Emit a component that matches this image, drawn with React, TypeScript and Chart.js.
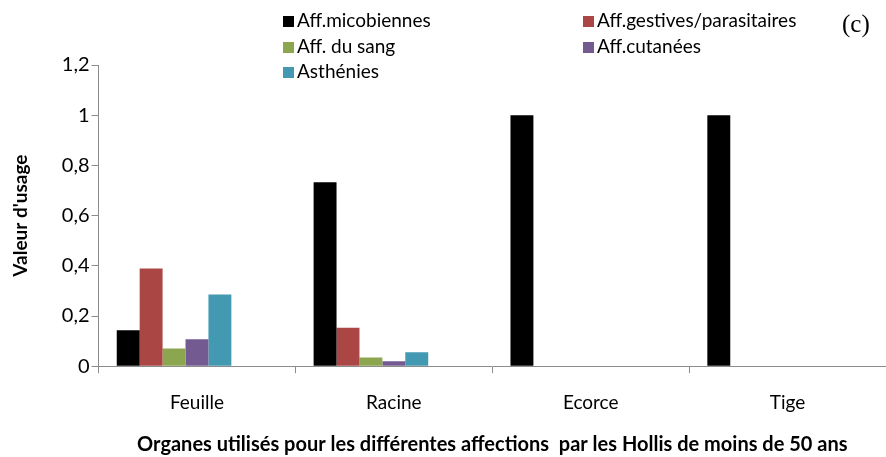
import React, { useEffect, useRef } from "react";
import { Chart, registerables } from "chart.js";

Chart.register(...registerables);

const categories = ["Feuille", "Racine", "Ecorce", "Tige"];
const seriesNames = [
  "Aff.micobiennes",
  "Aff.gestives/parasitaires",
  "Aff. du sang",
  "Aff.cutanées",
  "Asthénies",
];
const microbiennes = [0.143, 0.733, 1, 1];
const digestives = [0.389, 0.153, null, null];
const sang = [0.071, 0.035, null, null];
const cutanees = [0.107, 0.02, null, null];
const asthenies = [0.286, 0.056, null, null];
const emptyA = [null, null, null, null];
const emptyB = [null, null, null, null];
const colors = ["#000000", "#AA4644", "#8CA650", "#735B92", "#4399B1"];
const yTicks = [0, 0.2, 0.4, 0.6, 0.8, 1, 1.2];

const FONT = "Lato, 'Open Sans', sans-serif";

const legendPlugin = {
  id: "customLegend",
  afterDraw(chart: any) {
    const ctx = chart.ctx;
    ctx.save();
    const pos = [
      [283, 21],
      [583, 21],
      [283, 47],
      [583, 47],
      [283, 72],
    ];
    ctx.font = `19px ${FONT}`;
    ctx.textBaseline = "middle";
    ctx.textAlign = "left";
    seriesNames.forEach((n, i) => {
      const [x, y] = pos[i];
      ctx.fillStyle = colors[i];
      ctx.fillRect(x, y - 5, 11, 11);
      ctx.fillStyle = "#000";
      ctx.fillText(n, x + 14, y);
    });
    ctx.font = "25px 'Liberation Serif', 'DejaVu Serif', serif";
    ctx.fillText("(c)", 842, 25);
    ctx.restore();
  },
};

export default function App() {
  const ref = useRef<HTMLCanvasElement>(null);
  useEffect(() => {
    document.body.style.margin = "0";
    const data = [microbiennes, digestives, sang, cutanees, asthenies, emptyA, emptyB];
    const chart = new Chart(ref.current!, {
      type: "bar",
      data: {
        labels: categories,
        datasets: data.map((d, i) => ({
          label: i < seriesNames.length ? seriesNames[i] : "",
          data: d as any,
          backgroundColor: colors[i] || "transparent",
          borderWidth: 0,
          barPercentage: 1,
          categoryPercentage: 0.815,
        })),
      },
      options: {
        animation: false,
        responsive: false,
        maintainAspectRatio: false,
        layout: { padding: { top: 65, right: 0, left: 9, bottom: 0 } },
        plugins: {
          legend: { display: false },
          tooltip: { enabled: false },
        },
        scales: {
          x: {
            offset: true,
            grid: {
              offset: true,
              drawOnChartArea: false,
              drawTicks: true,
              tickLength: 7,
              color: "#8c8c8c",
            },
            border: { color: "#8c8c8c", width: 1 },
            ticks: {
              color: "#000",
              font: { family: FONT, size: 19 },
              padding: 18,
            },
            title: {
              display: true,
              text: "Organes utilisés pour les différentes affections  par les Hollis de moins de 50 ans",
              color: "#000",
              font: { family: FONT, size: 20, weight: "bold" },
              padding: { top: 1, bottom: 0 },
            },
          },
          y: {
            min: 0,
            max: 1.2,
            afterBuildTicks(axis: any) {
              axis.ticks = yTicks.map((v) => ({ value: v }));
            },
            grid: {
              drawOnChartArea: false,
              drawTicks: true,
              tickLength: 7,
              color: "#8c8c8c",
            },
            border: { color: "#8c8c8c", width: 1 },
            ticks: {
              color: "#000",
              font: { family: FONT, size: 20 },
              padding: 2,
              callback: (v: any) => {
                const n = Math.round(Number(v) * 10) / 10;
                return String(n).replace(".", ",");
              },
            },
            title: {
              display: true,
              text: "Valeur d'usage",
              color: "#000",
              font: { family: FONT, size: 19, weight: "bold" },
              padding: { top: 0, bottom: 28 },
            },
          },
        },
      },
      plugins: [legendPlugin],
    });
    return () => chart.destroy();
  }, []);
  return <canvas ref={ref} width={886} height={457} style={{ display: "block" }} />;
}
